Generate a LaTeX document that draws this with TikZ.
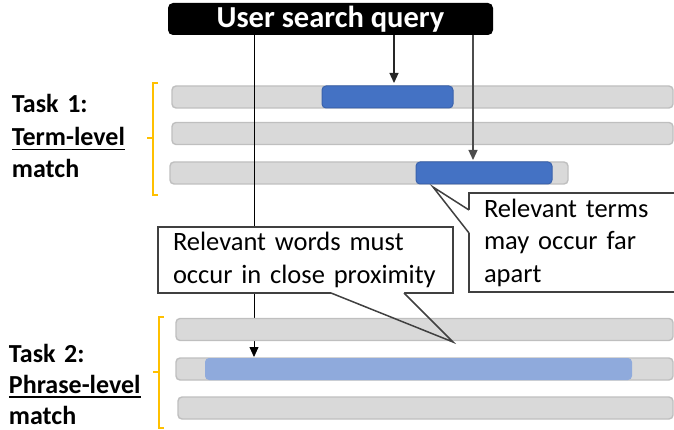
\documentclass[tikz,border=0pt]{standalone}
\usepackage{fontspec}
\setmainfont{Carlito}
\usetikzlibrary{
arrows.meta,
positioning,
}
\definecolor{barfill}{HTML}{D9D9D9}
\definecolor{barline}{HTML}{BFBFBF}
\definecolor{termfill}{HTML}{4472C4}
\definecolor{termline}{HTML}{3A62AC}
\definecolor{phrasefill}{HTML}{8FAADC}
\definecolor{bracketcol}{HTML}{FFC000}
\definecolor{bubbleline}{HTML}{404040}
\tikzset{
every node/.style={inner sep=0pt, outer sep=0pt},
bar/.style={rectangle, rounded corners=4pt, draw=barline, fill=barfill, line width=1.4pt, minimum height=22pt, anchor=west},
term/.style={bar, draw=termline, fill=termfill, line width=1pt},
phrase/.style={bar, draw=none, fill=phrasefill},
query/.style={rectangle, rounded corners=5pt, fill=black, text=white, font=\bfseries\fontsize{30.5}{31}\selectfont, minimum width=325pt, minimum height=32pt},
bracket/.style={draw=bracketcol, line width=1.1pt},
link/.style={-{Triangle[width=9pt,length=10pt]}},
bubble/.style={rectangle, draw=bubbleline, fill=white, line width=1.5pt, align=left, font=\fontsize{26.5}{32.5}\selectfont},
pointer/.style={draw=bubbleline, line width=1.5pt},
task/.style={align=left, anchor=base west, text width=160pt, font=\bfseries\fontsize{26}{32.5}\selectfont},
}
\newcommand{\lvl}[1]{\leavevmode\vtop{\hbox{#1}\kern3pt\hrule height 1.8pt}}

\begin{document}
\begin{tikzpicture}[x=1pt, y=-1pt]
\useasboundingbox (0,0) rectangle (674,430);
\clip (0,0) rectangle (674,430);

% task 1: term-level rows
\node[bar, minimum width=501pt] (a1) at (172,97) {};
\node[bar, minimum width=501pt] (a2) at (172,133.5) {};
\node[bar, minimum width=398pt] (a3) at (170,173) {};
\node[term, minimum width=131pt] (hit1) at (322,97) {};
\node[term, minimum width=136pt] (hit2) at (416,173) {};

\node[query] (query) at (330.5,19) {User search query};

% query words hitting the documents
\coordinate (near1) at (394,83);
\coordinate (near2) at (473,160);
\coordinate (close) at (254,357);
\draw[link, line width=0.8pt] (query.south -| close) -- (close);
\draw[link, line width=1.2pt, draw=black!85] (query.south -| near1) -- (near1);
\draw[link, line width=1.3pt, draw=black!70] (query.south -| near2) -- (near2);

% callouts
\node[bubble, minimum width=295pt, minimum height=66pt, text width=265pt, inner xsep=15pt, anchor=north west] (words) at (158,227)
    {Relevant words must\\occur in close proximity};
\node[bubble, minimum width=230pt, minimum height=99pt, text width=200pt, inner xsep=14pt, anchor=north west] (terms) at (469,193)
    {Relevant terms\\may occur far\\apart};
\coordinate (wtip) at (453,342);
\coordinate (ttip) at (433,187);
\fill[white] (331,293) -- (331,290) -- (404,290) -- (404,293) -- (wtip) -- cycle;
\fill[white] (469,210) -- (472,210) -- (472,233) -- (469,233) -- (ttip) -- cycle;

% task 2: phrase-level rows
\node[bar, minimum width=497pt] (b1) at (176,329.5) {};
\node[bar, minimum width=497pt] (b2) at (176,369) {};
\node[bar, minimum width=495pt] (b3) at (178,408) {};
\node[phrase, minimum width=427pt] (span) at (205,369) {};

\draw[pointer] (331,293) -- (wtip) -- (404,293);
\draw[pointer] (469,210) -- (ttip) -- (469,233);

% brackets and task labels
\draw[bracket] (158,83) -- (153,83) -- (153,195) -- (158,195) (153,138) -- (147,138);
\draw[bracket] (164,317) -- (159,317) -- (159,428) -- (164,428) (159,372) -- (153,372);
\node[task] (task1) at (12,113) {Task 1:\\\lvl{Term-level}\\match};
\node[task, font=\bfseries\fontsize{26}{31}\selectfont] (task2) at (9,362) {Task 2:\\\lvl{Phrase-level}\\match};
\end{tikzpicture}
\end{document}
